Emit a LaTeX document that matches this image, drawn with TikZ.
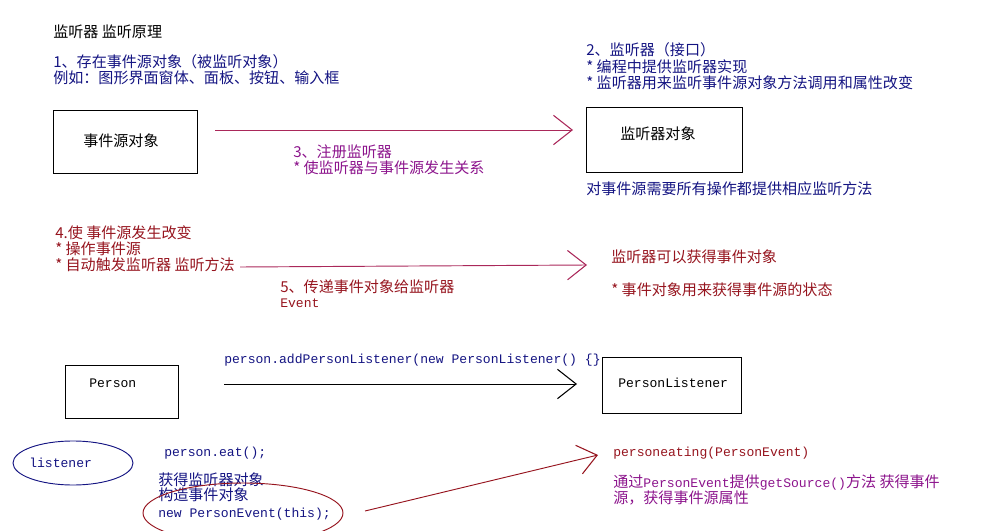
\documentclass[tikz,border=0pt]{standalone}
\usepackage{fontspec}
\setmainfont{Noto Sans CJK SC}
\setmonofont{Liberation Mono}
\usetikzlibrary{arrows.meta,shapes.geometric}
\definecolor{nav}{RGB}{20,20,130}
\definecolor{pur}{RGB}{140,20,140}
\definecolor{drd}{RGB}{150,20,30}
\definecolor{arr}{RGB}{170,40,90}
\newcommand{\mycode}[1]{{\ttfamily\fontsize{9.8}{11}\selectfont #1}}
\begin{document}
\begin{tikzpicture}[x=0.75pt,y=-0.75pt,
  t/.style={anchor=west,inner sep=0pt,font=\fontsize{11.3}{13}\selectfont},
  tt/.style={anchor=west,inner sep=0pt,font=\ttfamily\fontsize{9.8}{11}\selectfont},
  box/.style={draw=black,line width=0.6pt},
  ar/.style={line width=0.7pt,-{Straight Barb[length=14pt,width=22pt,line width=0.8pt]}}]
\useasboundingbox (0,0) rectangle (984,531);
\node[t] (title) at (53,32) {监听器 监听原理};
\node[t,nav] (n1a) at (53,62) {1、存在事件源对象（被监听对象）};
\node[t,nav] (n1b) at (53,78) {例如：图形界面窗体、面板、按钮、输入框};
\node[box,minimum width=108pt,minimum height=47pt,anchor=north west] (src) at (53,110) {};
\node[t] (srct) at (83,141) {事件源对象};
\node[t,nav] (n2a) at (586,50) {2、监听器（接口）};
\node[t,nav] (n2b) at (586,67) {* 编程中提供监听器实现};
\node[t,nav] (n2c) at (586,83) {* 监听器用来监听事件源对象方法调用和属性改变};
\node[box,minimum width=117pt,minimum height=49pt,anchor=north west] (lis) at (586,107) {};
\node[t] (list) at (620,134) {监听器对象};
\node[t,nav] (n2d) at (586,189) {对事件源需要所有操作都提供相应监听方法};
\coordinate (a1s) at (215,130); \coordinate (a1e) at (573,130);
\draw[ar,arr] (a1s) -- (a1e);
\node[t,pur] (n3a) at (293,152) {3、注册监听器};
\node[t,pur] (n3b) at (293,168) {* 使监听器与事件源发生关系};
\node[t,drd] (n4a) at (55,233) {4.使 事件源发生改变};
\node[t,drd] (n4b) at (55,249) {* 操作事件源};
\node[t,drd] (n4c) at (55,265) {* 自动触发监听器 监听方法};
\coordinate (a2s) at (240,267); \coordinate (a2e) at (587,265);
\draw[ar,arr] (a2s) -- (a2e);
\node[t,drd] (n5a) at (280,287) {5、传递事件对象给监听器};
\node[tt,drd] (n5b) at (280,303) {Event};
\node[t,drd] (n6a) at (611,257) {监听器可以获得事件对象};
\node[t,drd] (n6b) at (611,290) {* 事件对象用来获得事件源的状态};
\node[box,minimum width=85pt,minimum height=40pt,anchor=north west] (per) at (65,365) {};
\node[tt] (pert) at (89,383) {Person};
\node[tt,nav] (code1) at (224,360) {person.addPersonListener(new PersonListener()  \{\}};
\coordinate (a3s) at (224,384); \coordinate (a3e) at (577,384);
\draw[ar,black] (a3s) -- (a3e);
\node[box,minimum width=104pt,minimum height=42pt,anchor=north west] (pl) at (602,357) {};
\node[tt] (plt) at (618,383) {PersonListener};
\node[draw=nav,ellipse,line width=0.7pt,minimum width=90pt,minimum height=33pt] (le) at (73,463) {};
\node[tt,nav] (let) at (29,463) {listener};
\node[tt,nav] (c2) at (164,453) {person.eat();};
\node[t,nav] (c3) at (158,480) {获得监听器对象};
\node[t,nav] (c4) at (158,495) {构造事件对象};
\node[tt,nav] (c5) at (158,514) {new PersonEvent(this);};
\node[draw=drd,ellipse,line width=0.7pt,minimum width=150pt,minimum height=45pt] (re) at (243,513) {};
\coordinate (a4s) at (365,511); \coordinate (a4e) at (598,455);
\draw[ar,drd] (a4s) -- (a4e);
\node[tt,drd] (p1) at (613,453) {personeating(PersonEvent)};
\node[t,pur] (p2) at (613,482) {通过\mycode{PersonEvent}提供\mycode{getSource()}方法 获得事件};
\node[t,pur] (p3) at (613,498) {源，获得事件源属性};
\end{tikzpicture}
\end{document}
